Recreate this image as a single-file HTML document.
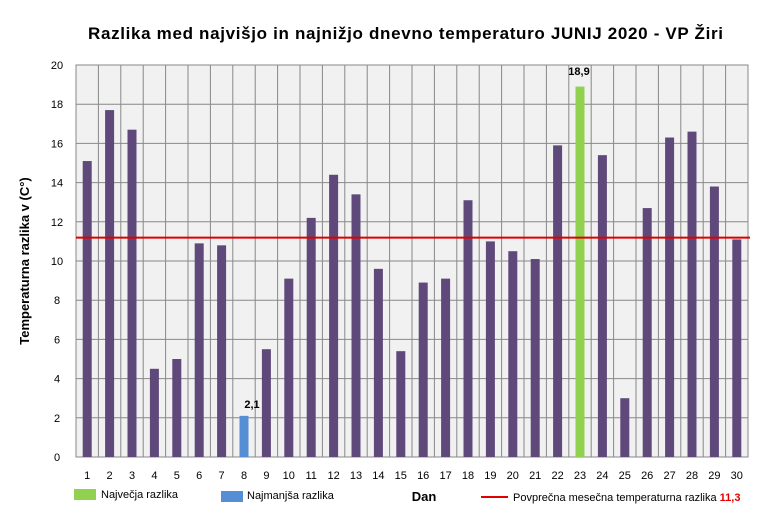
<!DOCTYPE html>
<html><head><style>body{margin:0;background:#fff}svg{display:block;font-family:"Liberation Sans",Verdana,sans-serif}</style></head><body>
<svg width="770" height="511" xmlns="http://www.w3.org/2000/svg">
<text x="88" y="39" textLength="635" lengthAdjust="spacing" font-size="17" font-weight="bold" fill="#000">Razlika med najvišjo  in najnižjo  dnevno  temperaturo  JUNIJ 2020 - VP Žiri</text>
<rect x="76" y="65" width="672" height="392" fill="#f1f1f1" stroke="#888"/>
<g id="g" stroke="#888" stroke-width="1"></g>
<g id="b"></g>
<line x1="76" y1="237.6" x2="750" y2="237.6" stroke="#e00000" stroke-width="2"/>
<text x="252" y="408" text-anchor="middle" font-size="11" font-weight="bold">2,1</text>
<text x="579" y="75" text-anchor="middle" font-size="11" font-weight="bold">18,9</text>
<text transform="translate(29,261) rotate(-90)" text-anchor="middle" font-size="13" font-weight="bold">Temperaturna razlika v (C°)</text>
<text x="424" y="501" text-anchor="middle" font-size="13" font-weight="bold">Dan</text>
<rect x="74" y="489" width="22" height="11" fill="#92d050"/>
<text x="101" y="498" font-size="11">Največja  razlika</text>
<rect x="221" y="491" width="22" height="11" fill="#558ed5"/>
<text x="247" y="499" font-size="11">Najmanjša razlika</text>
<line x1="481" y1="497" x2="508" y2="497" stroke="#e00000" stroke-width="2"/>
<text x="513" y="501" font-size="11">Povprečna mesečna temperaturna razlika <tspan fill="#e00000" font-weight="bold">11,3</tspan></text>
<g id="t" font-size="11" text-anchor="middle"></g>
</svg>
<script>
var d=[15.1,17.7,16.7,4.5,5.0,10.9,10.8,2.1,5.5,9.1,12.2,14.4,13.4,9.6,5.4,8.9,9.1,13.1,11.0,10.5,10.1,15.9,18.9,15.4,3.0,12.7,16.3,16.6,13.8,11.1];
var ns="http://www.w3.org/2000/svg",g=document.getElementById('g'),b=document.getElementById('b'),t=document.getElementById('t');
function el(p,n,a,txt){var e=document.createElementNS(ns,n);for(var k in a)e.setAttribute(k,a[k]);if(txt!=null)e.textContent=txt;p.appendChild(e);}
var W=672/30,y0=457,s=19.6;
for(var i=1;i<30;i++){var x=76+i*W;el(g,'line',{x1:x,y1:65,x2:x,y2:457});}
for(var v=0;v<=20;v+=2){var y=y0-v*s;el(g,'line',{x1:76,y1:y,x2:748,y2:y});el(t,'text',{x:57,y:y+4},v);}
d.forEach(function(v,i){var cx=76+(i+0.5)*W;var c=i==7?'#558ed5':i==22?'#92d050':'#5f497a';el(b,'rect',{x:cx-4.5,y:y0-v*s,width:9,height:v*s,fill:c});el(t,'text',{x:cx,y:479},i+1);});
</script>
</body></html>
